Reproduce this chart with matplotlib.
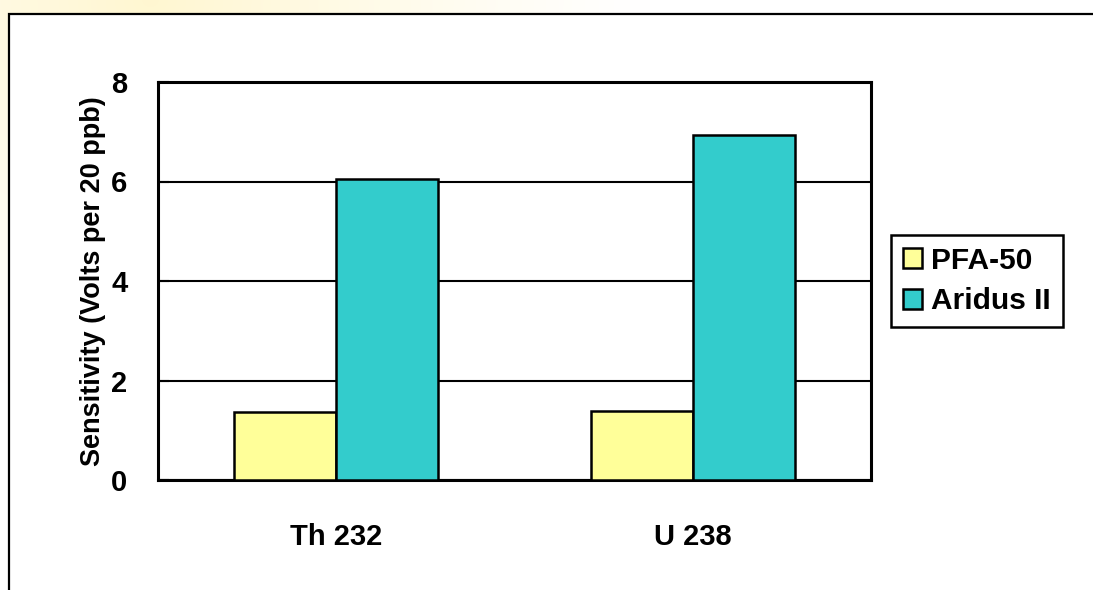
import numpy as np
import matplotlib
matplotlib.use("Agg")
import matplotlib.pyplot as plt
from matplotlib.patches import Rectangle

plt.rcParams['font.family'] = ['Liberation Sans', 'DejaVu Sans']
plt.rcParams['font.weight'] = 'bold'

categories = ["Th 232", "U 238"]
series_names = ["PFA-50", "Aridus II"]
pfa50 = [1.37, 1.39]
aridus = [6.05, 6.93]
colors = ["#FFFF99", "#33CCCC"]
yticks = [0, 2, 4, 6, 8]

W, H = 1093, 590
fig = plt.figure(figsize=(W / 100, H / 100), dpi=100)

# faint yellowish glow in top-left background
bg = fig.add_axes([0, 0, 1, 1], zorder=-10)
yy, xx = np.mgrid[0:H, 0:W]
d = np.sqrt(((xx - 150) / 500.0) ** 2 + ((yy - 0) / 400.0) ** 2)
a = np.clip(1 - d, 0, 1) ** 1.2 * 0.4
img = np.ones((H, W, 3))
img[..., 1] = 1 - a * 0.08
img[..., 2] = 1 - a * 0.45
bg.imshow(img, extent=[0, 1, 0, 1], aspect='auto')
bg.set_axis_off()
# white panel with outer frame
fig.patches.append(Rectangle((9 / W, -0.05), 1.1, 1 - 14 / H + 0.05,
                             transform=fig.transFigure, facecolor='white',
                             edgecolor='black', linewidth=1.6, zorder=-5))

ax = fig.add_axes([158 / W, 1 - 480 / H, (871 - 158) / W, (480 - 82) / H])
ax.set_facecolor('white')
x = np.arange(len(categories))
w = 0.286
ax.bar(x - w / 2, pfa50, w, color=colors[0], edgecolor='black', linewidth=1.8,
       label=series_names[0], zorder=3)
ax.bar(x + w / 2, aridus, w, color=colors[1], edgecolor='black', linewidth=1.8,
       label=series_names[1], zorder=3)

ax.set_xlim(-0.5, 1.5)
ax.set_ylim(0, 8)
ax.set_yticks(yticks)
ax.set_yticklabels([str(v) for v in yticks], fontsize=21, fontweight='bold')
ax.set_xticks(x)
ax.set_xticklabels(categories, fontsize=21, fontweight='bold')
ax.tick_params(axis='y', direction='in', length=8, width=1.5, pad=22)
ax.tick_params(axis='x', length=0, pad=31)
ax.grid(axis='y', color='black', linewidth=1.5, zorder=0)
ax.set_axisbelow(True)
for s in ax.spines.values():
    s.set_linewidth(2.2)
    s.set_color('black')
ax.set_ylabel("Sensitivity (Volts per 20 ppb)", fontsize=19.5, fontweight='bold',
              labelpad=4)

leg = ax.legend(loc='upper left', bbox_to_anchor=(891 / W, 1 - 235 / H),
                bbox_transform=fig.transFigure, fontsize=21.5, frameon=True,
                fancybox=False, edgecolor='black', framealpha=1,
                handlelength=0.65, handleheight=0.65, handletextpad=0.3,
                labelspacing=0.42, borderpad=0.4, borderaxespad=0)
leg.get_frame().set_linewidth(1.8)
for t in leg.get_texts():
    t.set_fontweight('bold')

fig.savefig("out.png", dpi=100)
